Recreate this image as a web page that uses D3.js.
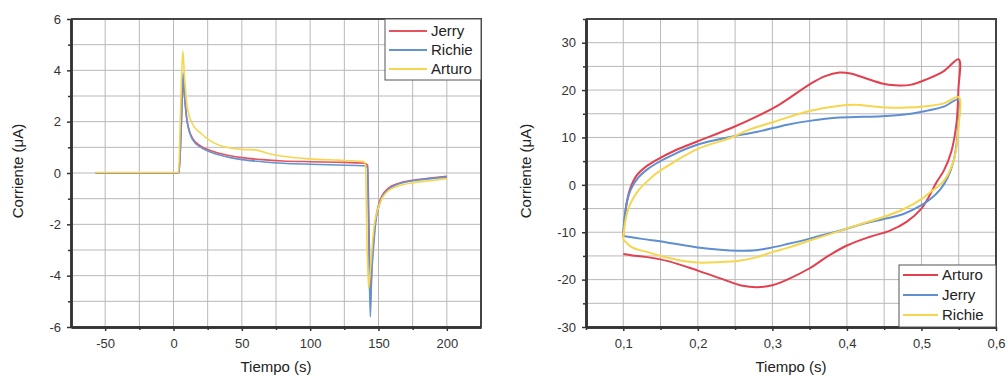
<!DOCTYPE html>
<html>
<head>
<meta charset="utf-8">
<script src="https://cdn.jsdelivr.net/npm/d3@7"></script>
<style>
body { margin: 0; background: #fff; }
svg { font-family: "Liberation Sans", Arial, sans-serif; }
</style>
</head>
<body>
<script>
const width = 1008;
const height = 377;

// ---- left chart: chronoamperometry [time (s), current (uA)]
const leftNames = ["Jerry", "Richie", "Arturo"];
const jerryCA = [[-57,0],[-30,0],[0,0],[4,0.02],[5.5,1.5],[7,3.6],[8,3.0],[10,2.0],[14,1.35],[20,1.05],[27,0.88],[35,0.75],[50,0.6],[65,0.52],[80,0.47],[100,0.44],[120,0.42],[140,0.38],[142,0.3],[143,-2],[144.2,-5.0],[145,-3.8],[146.5,-2.6],[148,-1.8],[150,-1.25],[153,-0.85],[157,-0.6],[165,-0.4],[175,-0.28],[188,-0.2],[200,-0.13]];
const richieCA = [[-57,0],[-30,0],[0,0],[4,0.02],[5.5,1.6],[7,3.9],[8,3.1],[10,2.0],[14,1.3],[20,1.0],[27,0.82],[35,0.68],[50,0.52],[65,0.44],[80,0.38],[100,0.34],[120,0.31],[140,0.28],[142,0.2],[143,-3],[144,-5.6],[145,-4],[146.5,-2.8],[148,-1.9],[150,-1.35],[153,-0.9],[157,-0.65],[165,-0.42],[175,-0.3],[188,-0.22],[200,-0.16]];
const arturoCA = [[-57,0.02],[-30,0.02],[0,0.02],[3.7,0.03],[5.2,2.5],[6.8,4.75],[8,3.8],[10,2.6],[14,1.9],[20,1.55],[27,1.25],[35,1.05],[50,0.92],[60,0.9],[70,0.75],[80,0.65],[100,0.55],[120,0.5],[139,0.45],[140.5,0.3],[141.5,-2.5],[142.8,-4.5],[144,-3.8],[145.5,-2.8],[147,-2.0],[149,-1.5],[152,-1.05],[156,-0.75],[165,-0.5],[175,-0.38],[188,-0.3],[200,-0.22]];
const leftColors = ["#e8525c", "#6494d0", "#f5d64e"];
const leftXTicks = [-50, 0, 50, 100, 150, 200];
const leftXMinor = [-25, 25, 75, 125, 175];
const leftYTicks = [-6, -4, -2, 0, 2, 4, 6];
const leftYMinor = [-5, -3, -1, 1, 3, 5];

// ---- right chart: cyclic voltammetry [x, current (uA)]
const rightNames = ["Arturo", "Jerry", "Richie"];
const arturoCV = [[0.1,-11],[0.102,-7],[0.105,-3.5],[0.11,-0.5],[0.118,2],[0.13,3.8],[0.143,5.1],[0.17,7.3],[0.2,9.2],[0.245,12],[0.28,14.5],[0.31,17],[0.35,21.2],[0.37,22.9],[0.39,23.7],[0.405,23.5],[0.425,22.5],[0.447,21.4],[0.465,21],[0.485,21.1],[0.506,22.2],[0.53,24],[0.55,26.5],
  [0.5495,20],[0.547,13],[0.54,7],[0.53,3],[0.52,0.5],[0.51,-2.5],[0.5,-5],[0.48,-7.8],[0.457,-9.7],[0.43,-11],[0.4,-12.8],[0.375,-15],[0.35,-17.6],[0.32,-20],[0.3,-21.2],[0.28,-21.6],[0.26,-21.3],[0.235,-20],[0.2,-18.1],[0.16,-16.1],[0.13,-15.2],[0.112,-14.9],[0.1,-14.6]];
const jerryCV = [[0.1,-10],[0.102,-6.5],[0.105,-3.5],[0.11,-1],[0.12,1.5],[0.13,3],[0.143,4.4],[0.17,6.6],[0.2,8.5],[0.24,10],[0.28,11.2],[0.32,12.7],[0.35,13.5],[0.39,14.2],[0.447,14.5],[0.48,14.9],[0.506,15.6],[0.53,16.5],[0.55,18],
  [0.5495,13],[0.547,8.5],[0.543,5],[0.535,1.5],[0.525,-1],[0.512,-3],[0.5,-4.3],[0.475,-6.2],[0.447,-7.3],[0.42,-8.3],[0.399,-9.3],[0.375,-10.3],[0.349,-11.4],[0.32,-12.5],[0.3,-13.2],[0.278,-13.8],[0.255,-13.9],[0.23,-13.7],[0.2,-13.2],[0.157,-12.1],[0.125,-11.4],[0.1,-10.8]];
const richieCV = [[0.1,-11.5],[0.102,-8.5],[0.105,-6],[0.11,-3.8],[0.12,-1.2],[0.13,0.4],[0.145,2.5],[0.17,5],[0.2,7.6],[0.245,10],[0.27,11.7],[0.3,13.2],[0.35,15.6],[0.39,16.7],[0.41,16.9],[0.447,16.4],[0.48,16.3],[0.506,16.6],[0.53,17.2],[0.55,18.5],
  [0.5495,12],[0.547,8],[0.543,5],[0.535,2],[0.525,0],[0.512,-1.5],[0.5,-3],[0.475,-5.2],[0.447,-6.9],[0.42,-8.2],[0.399,-9.3],[0.375,-10.5],[0.349,-11.8],[0.32,-13.3],[0.3,-14.2],[0.278,-15.3],[0.255,-16],[0.23,-16.3],[0.2,-16.4],[0.175,-15.9],[0.157,-15.3],[0.135,-14.3],[0.112,-13.2],[0.1,-11.5]];
const rightColors = ["#e2404e", "#5f8fd0", "#f5d64e"];
const rightXTicks = [0.1, 0.2, 0.3, 0.4, 0.5, 0.6];
const rightXMinor = [0.05, 0.15, 0.25, 0.35, 0.45, 0.55];
const rightYTicks = [-30, -20, -10, 0, 10, 20, 30];
const rightYMinor = [-25, -15, -5, 5, 15, 25, 35];

const locale = d3.formatLocale({decimal: ",", thousands: ".", grouping: [3], currency: ["", ""], minus: "-"});

const svg = d3.select("body").append("svg")
    .attr("width", width)
    .attr("height", height);

function panel(opt) {
    const g = svg.append("g");
    const x = d3.scaleLinear().domain(opt.xDomain).range([opt.left, opt.right]);
    const y = d3.scaleLinear().domain(opt.yDomain).range([opt.bottom, opt.top]);

    // grid, major and minor alike
    g.append("g").selectAll("line")
        .data(opt.xTicks.concat(opt.xMinor))
        .join("line")
        .attr("x1", d => x(d)).attr("x2", d => x(d))
        .attr("y1", opt.top).attr("y2", opt.bottom)
        .attr("stroke", "#b9b9b9");
    g.append("g").selectAll("line")
        .data(opt.yTicks.concat(opt.yMinor))
        .join("line")
        .attr("y1", d => y(d)).attr("y2", d => y(d))
        .attr("x1", opt.left).attr("x2", opt.right)
        .attr("stroke", "#b9b9b9");

    const line = d3.line()
        .x(d => x(d[0]))
        .y(d => y(d[1]))
        .curve(opt.curve);

    opt.series.forEach((s, i) => {
        g.append("path")
            .datum(s)
            .attr("d", line)
            .attr("fill", "none")
            .attr("stroke", opt.colors[i])
            .attr("stroke-width", opt.lineWidth)
            .attr("stroke-linejoin", "round");
    });

    // top + right frame
    g.append("path")
        .attr("d", `M${opt.left},${opt.top}H${opt.right}V${opt.bottom}`)
        .attr("fill", "none")
        .attr("stroke", "#444")
        .attr("stroke-width", 2);

    const xAxis = g.append("g").attr("transform", `translate(0,${opt.bottom})`);
    xAxis.call(d3.axisBottom(x).tickValues(opt.xTicks).tickFormat(opt.xFmt).tickSize(4).tickPadding(8).tickSizeOuter(0));
    xAxis.append("g").call(d3.axisBottom(x).tickValues(opt.xMinor).tickFormat("").tickSize(3).tickSizeOuter(0));

    const yAxis = g.append("g").attr("transform", `translate(${opt.left},0)`);
    yAxis.call(d3.axisLeft(y).tickValues(opt.yTicks).tickFormat(opt.yFmt).tickSize(4).tickPadding(6).tickSizeOuter(0));
    yAxis.append("g").call(d3.axisLeft(y).tickValues(opt.yMinor.filter(v => v <= opt.yDomain[1])).tickFormat("").tickSize(3).tickSizeOuter(0));

    g.selectAll(".domain").attr("stroke", "#333").attr("stroke-width", 2.5);
    g.selectAll(".tick line").attr("stroke", "#333").attr("stroke-width", 1.5);
    g.selectAll(".tick text").attr("fill", "#333").style("font-size", "13px");

    // axis titles
    g.append("text")
        .attr("x", (opt.left + opt.right) / 2 + opt.xTitleShift)
        .attr("y", 372)
        .attr("text-anchor", "middle")
        .attr("fill", "#222")
        .style("font-size", "15px")
        .text("Tiempo (s)");
    g.append("text")
        .attr("transform", `translate(${opt.yTitleX},${(opt.top + opt.bottom) / 2 - 2}) rotate(-90)`)
        .attr("text-anchor", "middle")
        .attr("fill", "#222")
        .style("font-size", "15px")
        .text("Corriente (μA)");

    // legend
    const lg = g.append("g");
    lg.append("rect")
        .attr("x", opt.legend.x).attr("y", opt.legend.y)
        .attr("width", opt.legend.w).attr("height", opt.legend.h)
        .attr("fill", "#fff")
        .attr("stroke", "#555");
    opt.names.forEach((n, i) => {
        const ly = opt.legend.y + opt.legend.first + i * opt.legend.step;
        lg.append("line")
            .attr("x1", opt.legend.x + 4).attr("x2", opt.legend.x + 4 + opt.legend.len)
            .attr("y1", ly).attr("y2", ly)
            .attr("stroke", opt.colors[i])
            .attr("stroke-width", 2);
        lg.append("text")
            .attr("x", opt.legend.x + 8 + opt.legend.len)
            .attr("y", ly + 5)
            .attr("fill", "#222")
            .style("font-size", "15px")
            .text(n);
    });
}

panel({
    left: 71, right: 481, top: 19, bottom: 327,
    xDomain: [-75, 225], yDomain: [-6, 6],
    xTicks: leftXTicks, xMinor: leftXMinor,
    yTicks: leftYTicks, yMinor: leftYMinor,
    xFmt: locale.format("d"), yFmt: locale.format("d"),
    series: [jerryCA, richieCA, arturoCA],
    colors: leftColors, names: leftNames,
    curve: d3.curveMonotoneX, lineWidth: 1.6,
    xTitleShift: 0, yTitleX: 23,
    legend: {x: 385, y: 19, w: 96, h: 61, first: 12, step: 19, len: 38}
});

panel({
    left: 586, right: 996, top: 19, bottom: 327,
    xDomain: [0.05, 0.6], yDomain: [-30, 35],
    xTicks: rightXTicks, xMinor: rightXMinor,
    yTicks: rightYTicks, yMinor: rightYMinor,
    xFmt: locale.format(".1f"), yFmt: locale.format("d"),
    series: [arturoCV, jerryCV, richieCV],
    colors: rightColors, names: rightNames,
    curve: d3.curveCatmullRom.alpha(0.5), lineWidth: 2,
    xTitleShift: 0, yTitleX: 531,
    legend: {x: 899, y: 265, w: 97, h: 62, first: 10, step: 20, len: 35}
});
</script>
</body>
</html>
